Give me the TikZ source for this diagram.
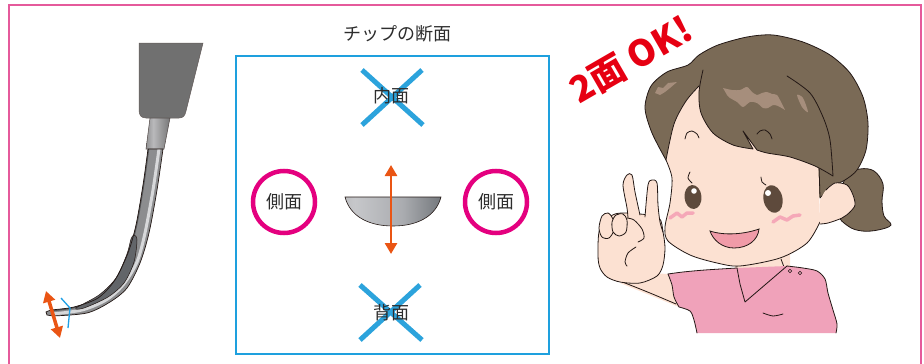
\documentclass[tikz,border=0pt]{standalone}
\usepackage{fontspec}
\newfontfamily\jpfont{Noto Sans CJK JP}
\usetikzlibrary{arrows.meta}

% palette
\definecolor{framepink}{RGB}{229,90,155}
\definecolor{boxblue}{RGB}{30,160,222}
\definecolor{crossblue}{RGB}{44,163,220}
\definecolor{tipblue}{RGB}{30,160,230}
\definecolor{ringmag}{RGB}{228,0,127}
\definecolor{arroworange}{RGB}{234,85,20}
\definecolor{okred}{RGB}{230,0,18}
\definecolor{textgray}{RGB}{45,45,45}
\definecolor{handlegray}{RGB}{112,112,112}
\definecolor{shankgray}{RGB}{140,141,143}
\definecolor{shanklight}{RGB}{215,216,218}
\definecolor{shankdark}{RGB}{85,86,88}
\definecolor{groove}{RGB}{98,101,105}
\definecolor{hair}{RGB}{122,106,86}
\definecolor{hairlight}{RGB}{166,142,124}
\definecolor{skin}{RGB}{252,225,210}
\definecolor{shirt}{RGB}{240,162,186}
\definecolor{eyebrown}{RGB}{94,74,60}
\definecolor{blush}{RGB}{245,168,184}
\definecolor{mouthpink}{RGB}{240,155,168}
\definecolor{ink}{RGB}{35,24,21}
\definecolor{bowlA}{RGB}{150,150,150}
\definecolor{bowlB}{RGB}{198,199,202}
\definecolor{bowlC}{RGB}{170,172,176}
\definecolor{bowlD}{RGB}{108,112,117}
\definecolor{bowlE}{RGB}{160,160,160}
\definecolor{slvA}{RGB}{80,80,80}
\definecolor{slvB}{RGB}{185,185,187}
\definecolor{slvC}{RGB}{70,70,70}

\pgfdeclarehorizontalshading{bowlmetal}{100bp}{color(0bp)=(bowlA); color(30bp)=(bowlB); color(55bp)=(bowlC); color(78bp)=(bowlD); color(100bp)=(bowlE)}
\pgfdeclarehorizontalshading{sleevemetal}{100bp}{color(0bp)=(slvA); color(40bp)=(slvB); color(100bp)=(slvC)}

% outline of the scaler shank
\newcommand\shankpath{plot[smooth] coordinates {(148,149) (143,185) (136,225) (128,253) (115,280) (98,298) (74,307) (52,310) (46,312)} -- (47,315) -- plot[smooth] coordinates {(53,316) (87,313) (110,302) (127,288) (140,263) (149,233) (157,190) (163,149)} -- cycle}

\begin{document}
\begin{tikzpicture}[x=1pt,y=-1pt,
  inkline/.style={draw=ink,line width=0.8pt,line join=round,line cap=round},
  jplabel/.style={font=\jpfont\fontsize{18}{20}\selectfont,text=textgray,inner sep=0pt},
  crossbar/.style={draw=crossblue,line width=5pt},
  okring/.style={draw=ringmag,line width=4.5pt,circle,minimum size=62pt,inner sep=0pt},
  movearrow/.style={draw=arroworange,{Triangle[length=11pt,width=12pt]}-{Triangle[length=11pt,width=12pt]}},
]
\useasboundingbox (0,0) rectangle (924,364);

% outer frame
\draw[framepink,line width=1.2pt] (9,364) -- (9,5) -- (921,5) -- (921,364);

% ---------- scaler ----------
\filldraw[fill=handlegray,draw=ink!70,line width=0.5pt] (139,43) -- (203,43) -- (186,111) .. controls (185,116) and (183,118) .. (179,118) -- (146,118) .. controls (141,118) and (139,115) .. (139,110) -- cycle;
\draw[draw=ink!80,line width=0.5pt,shade,shading=sleevemetal,shading angle=0] (150,118) -- (170,118) -- (164,149) -- (146,149) -- cycle;
\fill[shankgray] \shankpath;
\begin{scope}
  \clip \shankpath;
  \draw[line width=3pt,shanklight] plot[smooth] coordinates {(159,149) (153,190) (145,233) (137,262) (123,285) (106,300) (82,310) (52,314)};
  \draw[line width=2.5pt,shankdark] plot[smooth] coordinates {(148,149) (143,185) (136,225) (128,253) (115,280) (98,298) (74,307) (52,310)};
\end{scope}
\filldraw[fill=groove,draw=ink,line width=0.5pt] plot[smooth cycle] coordinates {(134,235) (137,240) (134,262) (124,283) (108,297) (84,308) (76,308) (99,295) (116,278) (127,254) (131,239)};
\draw[ink,line width=0.7pt] \shankpath;

% working-stroke direction at the tip
\coordinate (tipUp) at (46,291);
\coordinate (tipDown) at (60,338);
\draw[movearrow,line width=3.5pt] (tipUp) -- (tipDown);
\coordinate (cutA) at (61,298);
\coordinate (cutB) at (70,308);
\coordinate (cutC) at (68,328);
\draw[tipblue,line width=1.3pt,line join=round] (cutA) -- (cutB) -- (cutC);

% ---------- cross-section panel ----------
\node[jplabel] (title) at (397,34) {チップの断面};
\draw[boxblue,line width=1.5pt] (236,56) rectangle (549,354);

\draw[crossbar] (362,70) -- (423,125);
\draw[crossbar] (422,70) -- (362,125);
\node[jplabel] (inner) at (391,96) {内面};

\draw[crossbar] (360,285) -- (422,340);
\draw[crossbar] (420,285) -- (360,340);
\node[jplabel] (back) at (391,313) {背面};

\node[okring,jplabel] (sideL) at (284,202) {側面};
\node[okring,jplabel] (sideR) at (496,202) {側面};

\draw[ink,line width=0.6pt,shade,shading=bowlmetal,shading angle=0] (345,197) -- (441,197) .. controls (436,216) and (418,226) .. (393,226) .. controls (368,226) and (350,216) .. cycle;
\coordinate (upEnd) at (391,165);
\coordinate (downEnd) at (391,254);
\draw[movearrow,line width=2.6pt] (upEnd) -- (downEnd);

% ---------- "2 faces OK" ----------
\node[rotate=30,text=okred,font=\jpfont\bfseries\fontsize{36}{36}\selectfont,inner sep=0pt] (okmark) at (631,60) {2面 OK!};

% ---------- girl ----------
% ponytail
\filldraw[fill=hair,inkline] plot[smooth cycle,tension=0.6] coordinates {(846,176) (860,169) (874,171) (883,184) (882,201) (884,216) (891,225) (878,230) (862,231) (848,226) (838,212)};
% back hair
\fill[hair] plot[smooth] coordinates {(666,160) (652,133) (645,108) (651,86) (667,72) (688,65) (699,55) (718,45) (747,37) (773,35) (803,42) (830,55) (850,73) (863,97) (868,123) (866,150) (857,170) (845,180) (833,186) (820,198)} -- (760,150) -- cycle;
\draw[inkline] plot[smooth] coordinates {(666,160) (652,133) (645,108) (651,86) (667,72) (688,65) (699,55) (718,45) (747,37) (773,35) (803,42) (830,55) (850,73) (863,97) (868,123) (866,150) (857,170) (845,180) (833,186) (820,198)};

% neck
\fill[skin] (735,255) -- (790,250) -- (790,272) -- (735,272) -- cycle;
\draw[inkline] (781,259) -- (784,267);

% arm
\fill[skin] (650,273) -- (668,274) -- (679,307) -- (620,283) -- cycle;
\draw[inkline] plot[smooth] coordinates {(620,281) (650,293) (676,304)};

% shirt
\fill[shirt] plot[smooth] coordinates {(668,274) (672,285) (674,297) (679,307)} -- plot[smooth] coordinates {(679,307) (690,311) (694,320) (697,333)} -- (836,333) -- plot[smooth] coordinates {(836,333) (837,324) (833,310) (828,293) (825,279) (817,271) (803,268) (787,266)} -- (737,268) -- plot[smooth] coordinates {(737,268) (705,270) (683,272) (668,274)} -- cycle;
\draw[inkline] plot[smooth] coordinates {(668,274) (672,285) (674,297) (679,307)} -- plot[smooth] coordinates {(679,307) (690,311) (694,320) (697,333)};
\draw[inkline] plot[smooth] coordinates {(836,333) (837,324) (833,310) (828,293) (825,279) (817,271) (803,268) (787,266)};
\draw[inkline] plot[smooth] coordinates {(737,268) (705,270) (683,272) (668,274)};
\draw[inkline] (737,268) -- (740,284) -- (745,302) -- (787,266);
\draw[inkline] plot[smooth] coordinates {(763,313) (773,316) (783,314)};
\filldraw[fill=shirt,draw=ink,line width=0.6pt] (790,271) circle[radius=1.8];
\filldraw[fill=shirt,draw=ink,line width=0.6pt] (800,273) circle[radius=1.8];

% hand
\filldraw[fill=skin,inkline] plot[smooth cycle] coordinates {(600,228) (598,255) (600,268) (607,277) (620,282) (640,283) (657,276) (663,265) (665,248) (663,232) (659,218) (640,214) (615,214)};
\fill[skin] plot[smooth] coordinates {(628,222) (627,208) (623,185) (627,175) (632,175) (635,192) (641,222)} -- cycle;
\draw[inkline] plot[smooth] coordinates {(628,218) (627,208) (623,185) (627,175) (632,175) (635,192) (640,215)};
\fill[skin] plot[smooth] coordinates {(645,225) (645,217) (648,185) (652,180) (657,183) (658,205) (660,222) (661,228)} -- cycle;
\draw[inkline] plot[smooth] coordinates {(645,217) (648,185) (652,180) (657,183) (658,205) (660,222) (663,232)};
\filldraw[fill=skin,inkline] plot[smooth cycle] coordinates {(599,228) (602,216) (608,213) (613,219) (614,230) (609,238) (602,237)};
\filldraw[fill=skin,inkline] plot[smooth cycle] coordinates {(612,222) (616,215) (623,214) (627,220) (626,232) (619,236) (613,232)};
\draw[inkline] plot[smooth] coordinates {(627,218) (634,220) (642,229) (644,238) (638,242)};
\draw[inkline] plot[smooth] coordinates {(636,247) (628,253) (625,262) (627,266)};

% face
\fill[skin] plot[smooth] coordinates {(666,160) (674,124) (686,101) (699,86)} -- (760,78) -- (818,150) -- (820,222) -- plot[smooth] coordinates {(820,222) (807,243) (780,258) (740,266) (717,263) (690,255) (668,241) (665,227) (670,203) (672,178) (666,160)} -- cycle;
\draw[inkline] plot[smooth] coordinates {(666,160) (674,124) (686,101) (699,86)};
\draw[inkline] plot[smooth] coordinates {(820,222) (807,243) (780,258) (740,266) (717,263) (690,255) (668,241) (665,227) (670,203) (672,178) (666,160)};
\draw[inkline] (820,197) -- (819,166);

% ear
\fill[skin] plot[smooth] coordinates {(820,200) (826,190) (835,183) (847,185) (853,195) (855,205) (850,212) (842,218) (828,223) (820,224)} -- cycle;
\draw[inkline] plot[smooth] coordinates {(826,190) (835,183) (847,185) (853,195) (855,205) (850,212) (842,218) (828,223) (820,224)};

% fringe
\fill[hair] plot[smooth] coordinates {(703,70) (699,92) (701,113) (713,133) (733,145) (753,149)} -- (743,131) -- plot[smooth] coordinates {(757,150) (767,153) (790,157) (815,166) (833,176)} -- plot[smooth] coordinates {(833,176) (830,140) (823,117) (810,93) (787,76)} -- cycle;
\draw[inkline] plot[smooth] coordinates {(703,70) (699,92) (701,113) (713,133) (733,145) (753,149)} -- (743,131) -- plot[smooth] coordinates {(757,150) (767,153) (790,157) (815,166) (833,176)} -- plot[smooth] coordinates {(833,176) (830,140) (823,117) (810,93) (787,76)};

% hair shine
\fill[hairlight] (655,93) -- (658,87) -- (663,88) -- (668,83) -- (677,82) -- (670,88) -- (665,92) -- (660,95) -- cycle;
\fill[hairlight] plot[smooth] coordinates {(723,88) (732,90) (740,90) (747,87) (752,92) (757,95) (762,93) (767,92) (772,94) (777,95) (781,102) (785,110)} -- plot[smooth] coordinates {(785,110) (778,106) (773,105) (768,108) (763,108) (757,103) (750,102) (743,107) (737,102) (730,98) (727,95)} -- cycle;
\fill[hairlight] plot[smooth cycle] coordinates {(797,95) (803,98) (808,112) (802,107)};

% eyebrows
\draw[inkline] plot[smooth] coordinates {(685,139) (687,133) (692,131) (697,134) (699,138)};
\draw[inkline] plot[smooth] coordinates {(757,134) (760,131) (765,130) (770,134) (772,139)};
% lashes
\draw[inkline] plot[smooth] coordinates {(690,172) (688,178) (692,183)};
\draw[inkline] plot[smooth] coordinates {(761,177) (762,182) (766,185)};

% eyes
\fill[eyebrown,rotate around={5:(693,197)}] (693,197) ellipse[x radius=8.5,y radius=12];
\fill[eyebrown,rotate around={12:(773,199)}] (773,199) ellipse[x radius=9.5,y radius=14];
\fill[white] (694,191) circle[radius=2.8];
\fill[white] (768,193) circle[radius=3];

% cheeks
\draw[blush,line width=3.5pt,line cap=round,line join=round] (670,218) -- (677,213) -- (682,217) -- (687,213) -- (693,213);
\draw[blush,line width=3.5pt,line cap=round,line join=round] (773,222) -- (780,217) -- (787,220) -- (793,216) -- (800,215);

% mouth
\filldraw[fill=mouthpink,draw=ink,line width=0.8pt] (710,231) .. controls (725,236) and (745,234) .. (759,229) .. controls (758,240) and (748,248) .. (734,248) .. controls (722,248) and (713,240) .. cycle;

\end{tikzpicture}
\end{document}
